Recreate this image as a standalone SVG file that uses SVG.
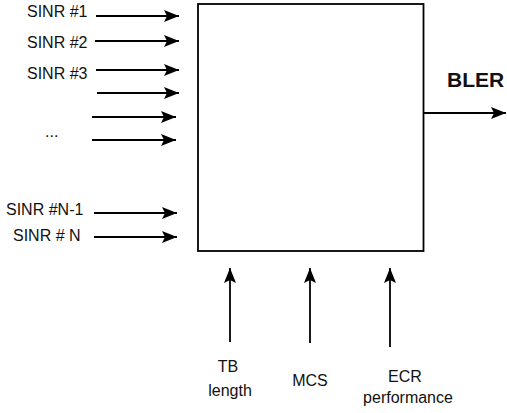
<svg xmlns="http://www.w3.org/2000/svg" width="507" height="413" viewBox="0 0 507 413">
<style>
text{font-family:"Liberation Sans",Arial,sans-serif;font-size:16px;fill:#111}
.bold{font-weight:bold;font-size:21px}
.c{stroke:#000;stroke-width:1.8;fill:none;marker-end:url(#ah)}
</style>
<defs>
<marker id="ah" markerUnits="userSpaceOnUse" markerWidth="16" markerHeight="12" refX="15" refY="6" orient="auto">
<path d="M0,0 L15,6 L0,12 L3,6 Z" fill="#000"/>
</marker>
</defs>
<rect width="507" height="413" fill="#fff"/>
<g id="block"><rect x="198" y="4" width="225.5" height="247" fill="#fff" stroke="#000" stroke-width="1.8"/></g>
<g id="connectors">
<line class="c" x1="96" y1="16" x2="179" y2="16"/>
<line class="c" x1="95" y1="41" x2="179" y2="41"/>
<line class="c" x1="96" y1="70" x2="179" y2="70"/>
<line class="c" x1="97" y1="93" x2="179" y2="93"/>
<line class="c" x1="92" y1="117" x2="176" y2="117"/>
<line class="c" x1="92" y1="140" x2="176" y2="140"/>
<line class="c" x1="94" y1="213" x2="177" y2="213"/>
<line class="c" x1="94" y1="237" x2="177" y2="237"/>
<line class="c" x1="424" y1="113" x2="506" y2="113"/>
<line class="c" x1="230" y1="342" x2="230" y2="268"/>
<line class="c" x1="310" y1="343" x2="310" y2="268"/>
<line class="c" x1="390" y1="347" x2="390" y2="268"/>
</g>
<g id="labels">
<text x="27" y="17">SINR #1</text>
<text x="27" y="48">SINR #2</text>
<text x="27" y="79">SINR #3</text>
<text x="45" y="137">...</text>
<text x="6" y="215">SINR #N-1</text>
<text x="13" y="241">SINR # N</text>
<text class="bold" x="447" y="87">BLER</text>
<text x="228" y="372" text-anchor="middle">TB</text>
<text x="230" y="396" text-anchor="middle">length</text>
<text x="310" y="386" text-anchor="middle">MCS</text>
<text x="405" y="382" text-anchor="middle">ECR</text>
<text x="408" y="403" text-anchor="middle">performance</text>
</g>
</svg>
